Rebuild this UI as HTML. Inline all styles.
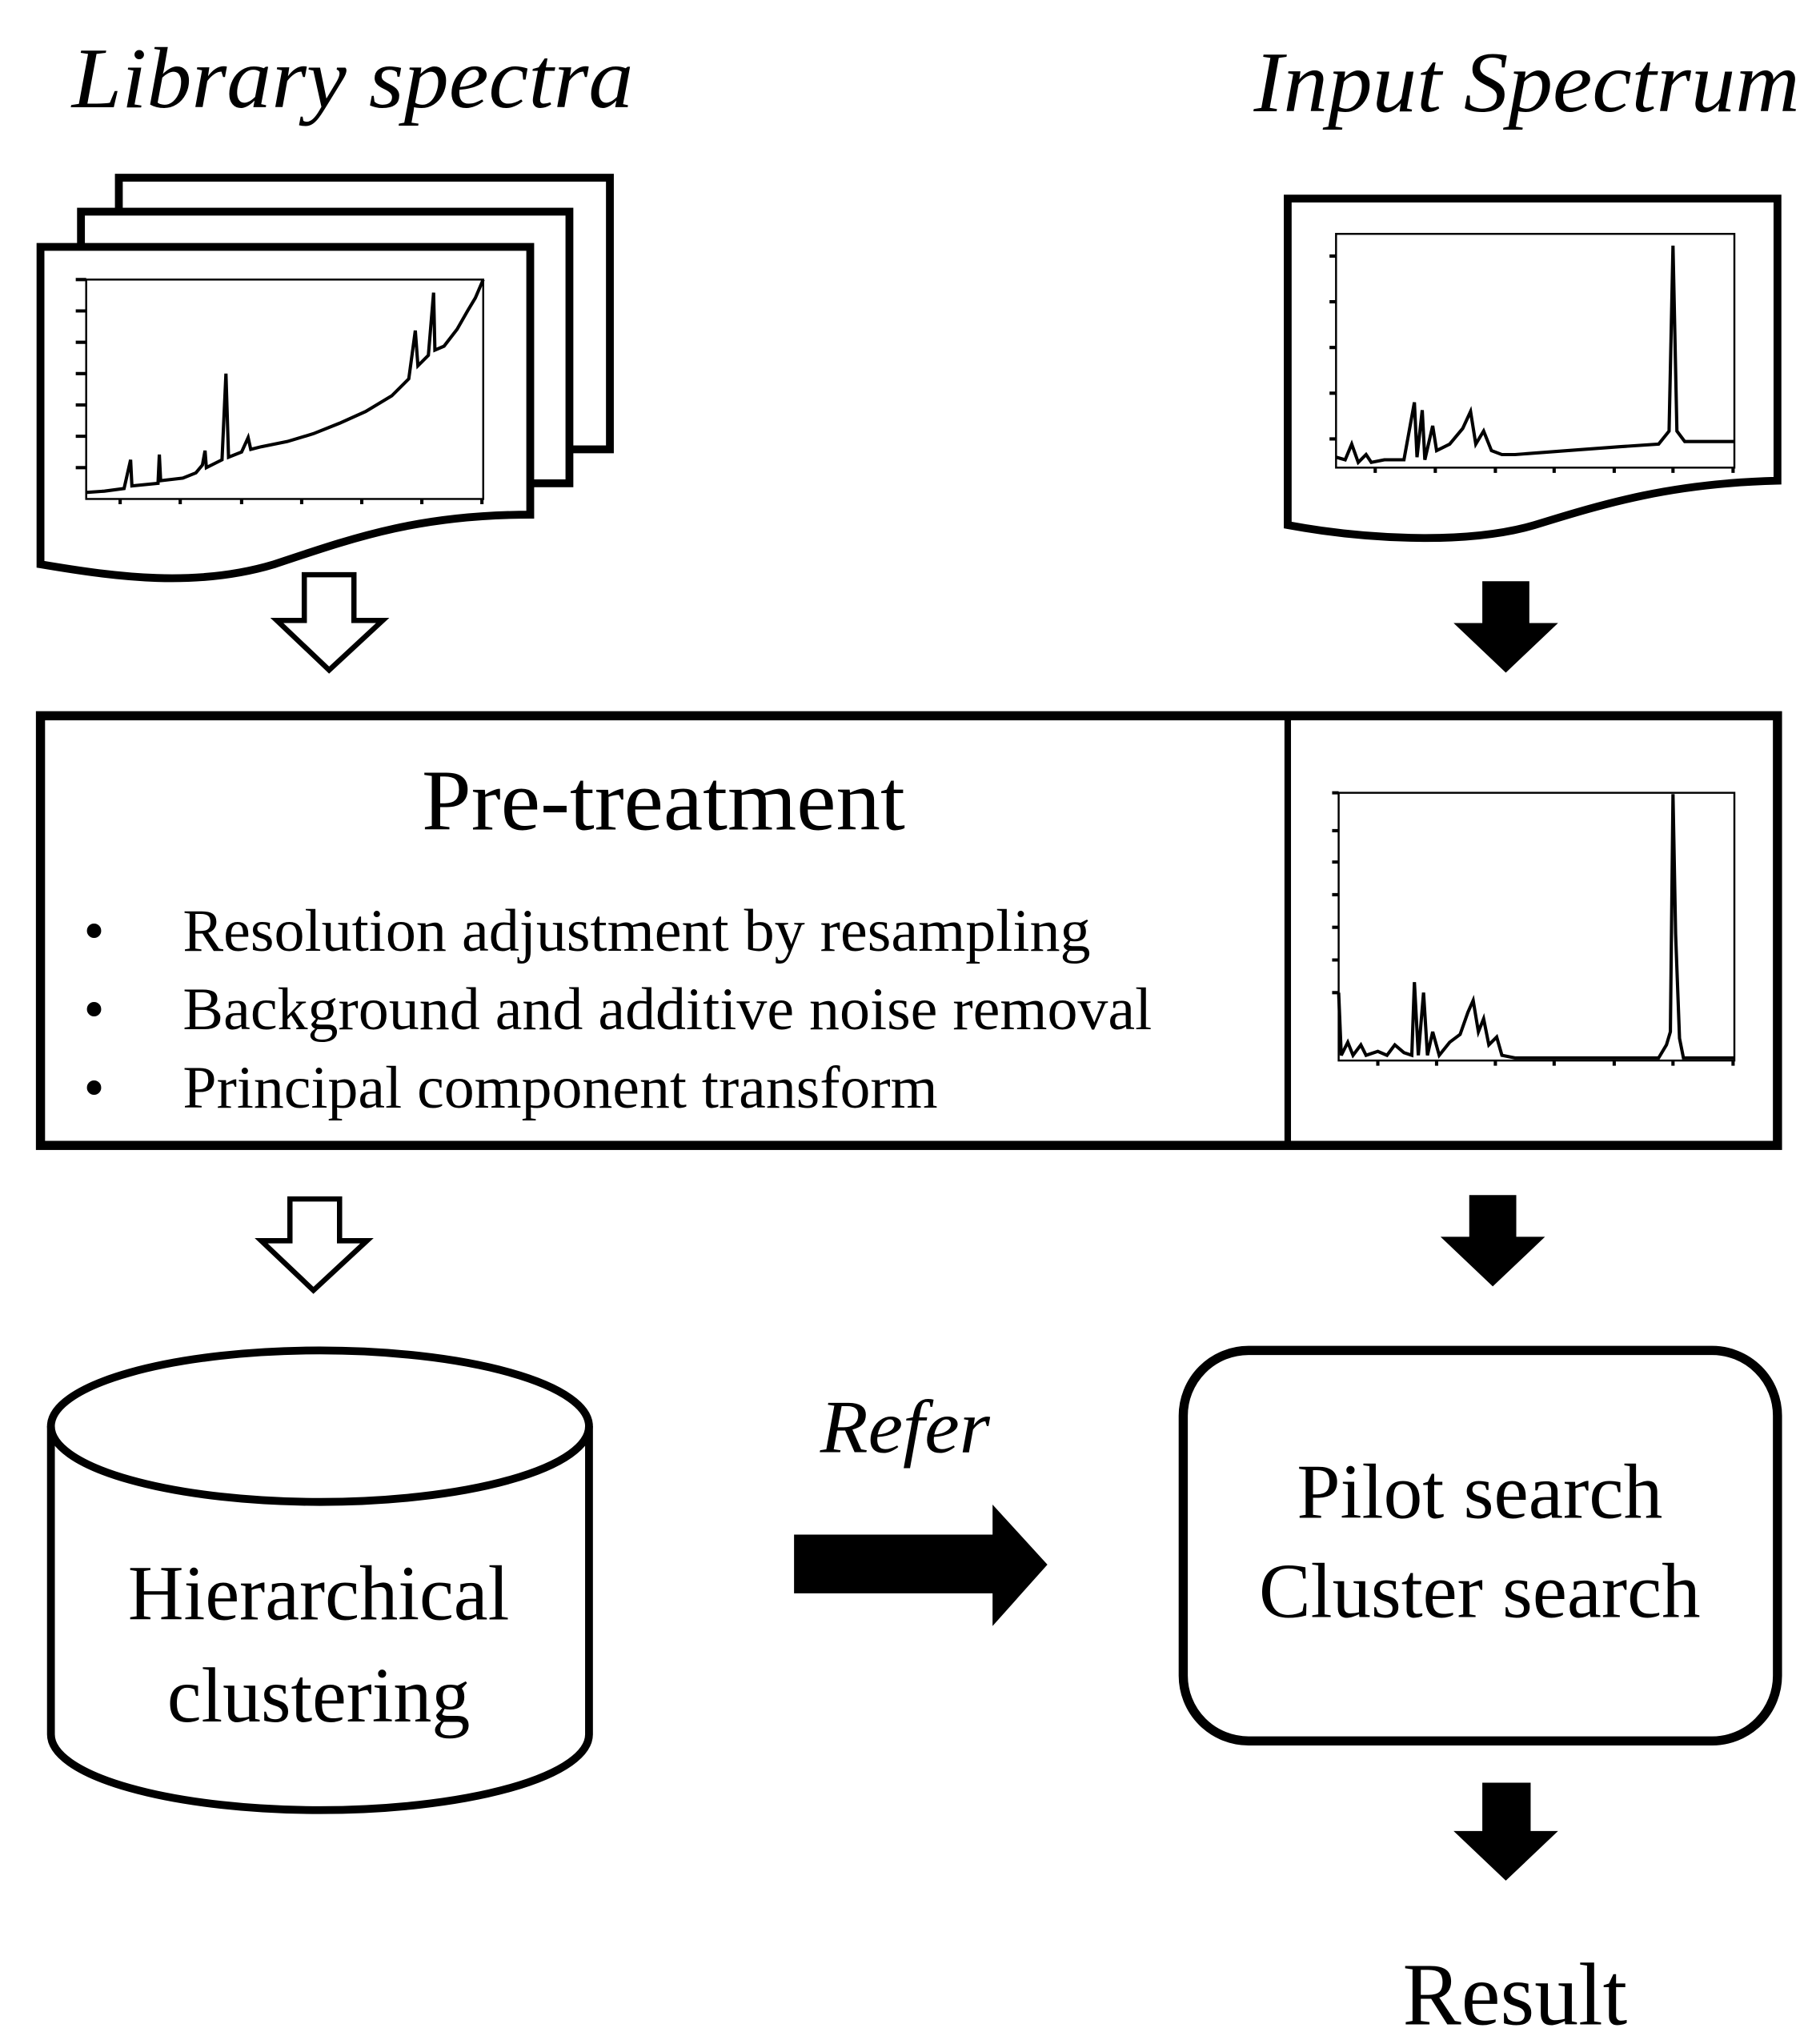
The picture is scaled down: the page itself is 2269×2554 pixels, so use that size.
<!DOCTYPE html>
<html><head><meta charset="utf-8"><style>
html,body{margin:0;padding:0;background:#fff;}
svg{display:block;}
text{font-family:"Liberation Serif",serif;fill:#000;}
</style></head><body>
<svg width="2269" height="2554" viewBox="0 0 1390.5 1565" xmlns="http://www.w3.org/2000/svg">
<rect x="0" y="0" width="1390.5" height="1565" fill="#fff"/>
<!-- titles -->
<text x="55" y="82" font-size="66" font-style="italic" textLength="430" lengthAdjust="spacingAndGlyphs">Library spectra</text>
<text x="960" y="85" font-size="66" font-style="italic" textLength="418" lengthAdjust="spacingAndGlyphs">Input Spectrum</text>

<!-- stacked pages -->
<g fill="#fff" stroke="#000" stroke-width="6">
<rect x="91" y="136" width="376" height="208"/>
<rect x="62" y="162" width="374" height="208"/>
<path d="M31,189 H406 V394 C320,394 270,412 210,432 C150,450 90,442 31,432 Z"/>
</g>
<!-- library chart -->
<g fill="none" stroke="#000">
<rect x="66" y="214" width="304" height="168" stroke-width="1.5"/>
<g stroke-width="2.5">
<path d="M58,214h8M58,238h8M58,262h8M58,286h8M58,310h8M58,334h8M58,358h8"/>
<path d="M92,382v4M138,382v4M185,382v4M231,382v4M277,382v4M323,382v4M369,382v4"/>
<polyline points="66,377 80,376 95,374 100,352 101,372 121,370 122,348 123,368 140,366 150,362 155,356 157,345 158,358 170,352 173,286 175,350 185,346 190,335 192,344 200,342 220,338 240,332 260,324 280,315 300,303 313,290 316,268 318,253 320,280 328,272 332,224 333,268 340,265 350,252 358,238 364,228 370,214"/>
</g>
</g>

<!-- input spectrum page -->
<path d="M986,152 H1361 V368 C1280,370 1230,385 1175,402 C1120,418 1040,412 986,402 Z" fill="#fff" stroke="#000" stroke-width="6"/>
<g fill="none" stroke="#000">
<rect x="1023" y="179" width="305" height="179" stroke-width="1.5"/>
<g stroke-width="2.5">
<path d="M1018,196h5M1018,231h5M1018,266h5M1018,301h5M1018,336h5"/>
<path d="M1053,358v4M1099,358v4M1145,358v4M1190,358v4M1236,358v4M1281,358v4M1327,358v4"/>
<polyline points="1023,350 1030,352 1035,340 1040,354 1046,348 1050,354 1060,352 1075,352 1083,308 1085,350 1089,314 1091,352 1097,326 1100,345 1110,340 1120,328 1126,315 1130,340 1136,330 1142,345 1150,348 1160,348 1200,345 1240,342 1270,340 1278,330 1281,188 1284,330 1290,338 1328,338"/>
</g>
</g>

<!-- arrows row 1 -->
<path d="M233,440 H271 V475 H293 L252,513 L212,475 H233 Z" fill="#fff" stroke="#000" stroke-width="4"/>
<path d="M1135,445 H1171 V477 H1193 L1153,515 L1113,477 H1135 Z" fill="#000"/>

<!-- pre-treatment box -->
<rect x="31" y="548" width="1330" height="329" fill="#fff" stroke="#000" stroke-width="7"/>
<line x1="986" y1="548" x2="986" y2="877" stroke="#000" stroke-width="5"/>
<text x="508" y="635" font-size="66" text-anchor="middle" textLength="370" lengthAdjust="spacingAndGlyphs">Pre-treatment</text>
<g font-size="46">
<text x="64" y="728">•</text>
<text x="64" y="788">•</text>
<text x="64" y="848">•</text>
<text x="140" y="728" textLength="695" lengthAdjust="spacingAndGlyphs">Resolution adjustment by resampling</text>
<text x="140" y="788" textLength="742" lengthAdjust="spacingAndGlyphs">Background and additive noise removal</text>
<text x="140" y="848" textLength="578" lengthAdjust="spacingAndGlyphs">Principal component transform</text>
</g>
<g fill="none" stroke="#000">
<rect x="1025" y="607" width="303" height="205" stroke-width="1.5"/>
<g stroke-width="2.5">
<path d="M1020,607h5M1020,636h5M1020,660h5M1020,685h5M1020,710h5M1020,735h5M1020,760h5"/>
<path d="M1055,812v4M1100,812v4M1145,812v4M1190,812v4M1236,812v4M1281,812v4M1327,812v4"/>
<polyline points="1025,760 1027,808 1032,798 1036,808 1042,800 1046,808 1055,805 1062,808 1068,800 1075,806 1081,808 1083,752 1086,808 1090,760 1093,808 1097,790 1102,808 1110,798 1118,792 1124,775 1128,766 1132,790 1136,780 1140,800 1146,794 1150,808 1160,810 1270,810 1276,800 1279,790 1281,608 1283,715 1286,795 1289,810 1328,810"/>
</g>
</g>

<!-- arrows row 2 -->
<path d="M222,918 H260 V950 H281 L240,988 L200,950 H222 Z" fill="#fff" stroke="#000" stroke-width="4"/>
<path d="M1125,915 H1161 V947 H1183 L1143,985 L1103,947 H1125 Z" fill="#000"/>

<!-- cylinder -->
<g fill="#fff" stroke="#000" stroke-width="6">
<path d="M39,1092 V1328 A206,58 0 0 0 451,1328 V1092"/>
<ellipse cx="245" cy="1092" rx="206" ry="58"/>
</g>
<text x="244" y="1240" font-size="60" text-anchor="middle" textLength="292" lengthAdjust="spacingAndGlyphs">Hierarchical</text>
<text x="244" y="1318" font-size="60" text-anchor="middle" textLength="232" lengthAdjust="spacingAndGlyphs">clustering</text>

<!-- refer arrow -->
<text x="628" y="1112" font-size="58" font-style="italic" textLength="130" lengthAdjust="spacingAndGlyphs">Refer</text>
<path d="M608,1175 H760 V1152 L802,1198 L760,1245 V1220 H608 Z" fill="#000"/>

<!-- rounded box -->
<rect x="906" y="1034" width="455" height="299" rx="50" ry="50" fill="#fff" stroke="#000" stroke-width="7"/>
<text x="1133" y="1162" font-size="60" text-anchor="middle" textLength="280" lengthAdjust="spacingAndGlyphs">Pilot search</text>
<text x="1133" y="1238" font-size="60" text-anchor="middle" textLength="338" lengthAdjust="spacingAndGlyphs">Cluster search</text>

<!-- result arrow -->
<path d="M1135,1365 H1172 V1402 H1193 L1153,1440 L1113,1402 H1135 Z" fill="#000"/>
<text x="1160" y="1550" font-size="68" text-anchor="middle" textLength="172" lengthAdjust="spacingAndGlyphs">Result</text>
</svg>
</body></html>
